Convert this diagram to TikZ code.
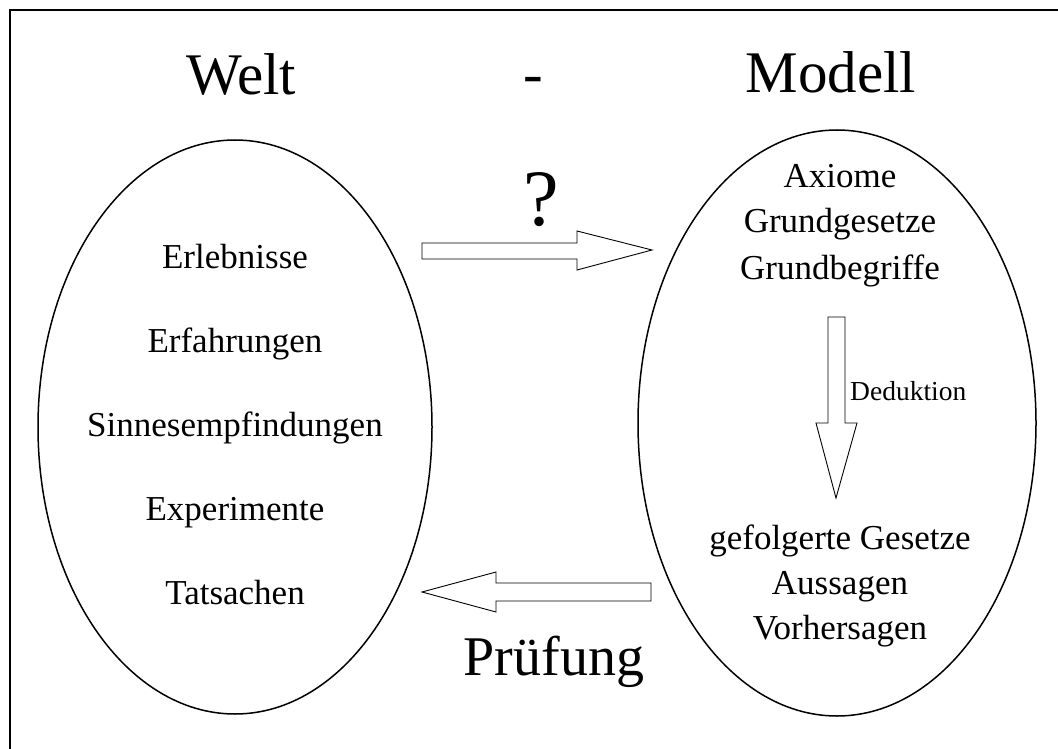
\documentclass[tikz,border=0pt]{standalone}
\usepackage{fontspec}
\setmainfont{Liberation Serif}
\usetikzlibrary{shapes.geometric}
\begin{document}
\begin{tikzpicture}[x=1pt,y=-1pt,
  item/.style={anchor=base,inner sep=0pt,font=\fontsize{35}{42}\selectfont},
  title/.style={anchor=base,inner sep=0pt,font=\fontsize{59}{70}\selectfont},
  oval/.style={draw,ellipse,line width=1.5pt,inner sep=0pt},
  blockarrow/.style={draw,line width=0.9pt,fill=white,line join=miter}]
\useasboundingbox (0,0) rectangle (1058,749);
\draw[line width=2pt] (10,760) -- (10,10) -- (1070,10);
% ellipses
\node[oval,minimum width=394pt,minimum height=574pt] (welt) at (235,427) {};
\node[oval,minimum width=398pt,minimum height=586pt] (modell) at (837,423) {};
% titles
\node[title] (tw) at (241,95) {Welt};
\node[title] (td) at (533,94) {-};
\node[title] (tm) at (831,93) {Modell};
% left items
\node[item] (e1) at (235,268) {Erlebnisse};
\node[item] (e2) at (235,352) {Erfahrungen};
\node[item] (e3) at (235,436) {Sinnesempfindungen};
\node[item] (e4) at (235,520) {Experimente};
\node[item] (e5) at (235,604) {Tatsachen};
% right items
\node[item] (a1) at (840,187) {Axiome};
\node[item] (a2) at (840,233) {Grundgesetze};
\node[item] (a3) at (840,279) {Grundbegriffe};
\node[item] (g1) at (840,549) {gefolgerte Gesetze};
\node[item] (g2) at (840,594) {Aussagen};
\node[item] (g3) at (840,639) {Vorhersagen};
% arrows
\draw[blockarrow] (422,243) -- (577,243) -- (577,231) -- (652,250) -- (577,270) -- (577,259) -- (422,259) -- cycle;
\draw[blockarrow] (651,583) -- (496,583) -- (496,572) -- (422,592) -- (496,612) -- (496,601) -- (651,601) -- cycle;
\draw[blockarrow] (828,317) -- (845,317) -- (845,423) -- (857,423) -- (836,498) -- (816,423) -- (828,423) -- cycle;
% labels
\node[anchor=base,inner sep=0pt,font=\fontsize{80}{90}\selectfont] (q) at (541,225) {?};
\node[anchor=base,inner sep=0pt,font=\fontsize{56}{66}\selectfont] (pr) at (554,675) {Prüfung};
\node[anchor=base west,inner sep=0pt,font=\fontsize{27.5}{33}\selectfont] (ded) at (850,400) {Deduktion};
\end{tikzpicture}
\end{document}
